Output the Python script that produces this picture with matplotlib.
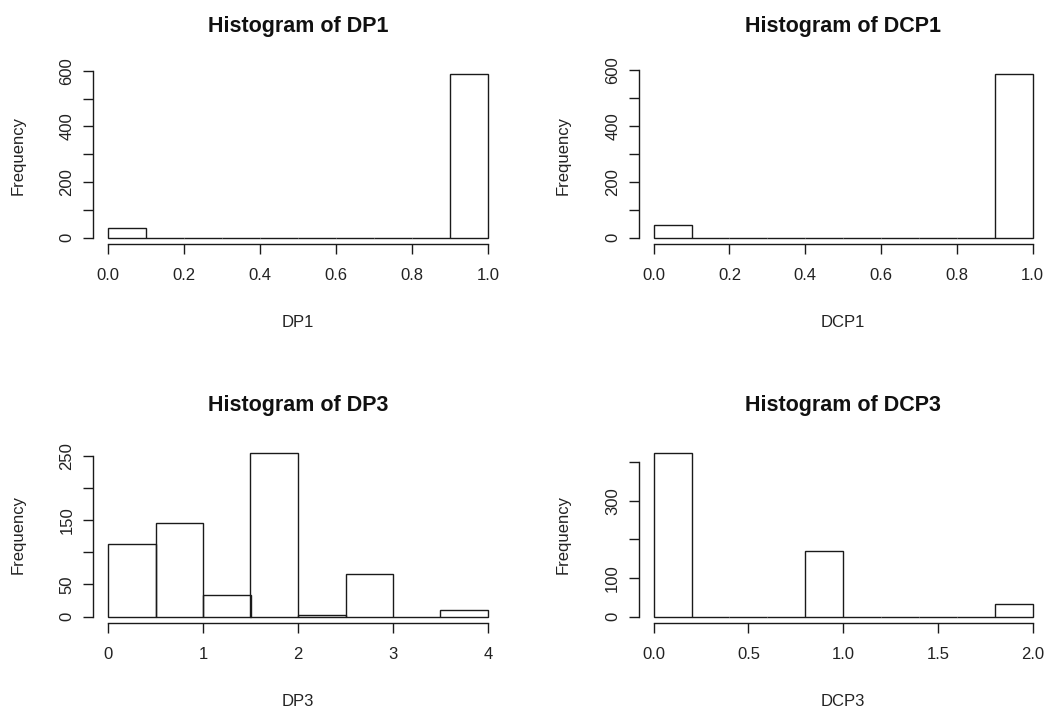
import numpy as np
import matplotlib
matplotlib.use('Agg')
import matplotlib.pyplot as plt

plt.rcParams['font.family'] = ['Liberation Sans', 'DejaVu Sans']

# bin edges and counts
dp1_edges = np.arange(0, 1.01, 0.1)
dp1_counts = [36, 0, 0, 0, 0, 0, 0, 0, 0, 588]

dcp1_edges = np.arange(0, 1.01, 0.1)
dcp1_counts = [45, 0, 0, 0, 0, 0, 0, 0, 0, 586]

dp3_edges = np.arange(0, 4.01, 0.5)
dp3_counts = [113, 145, 33, 254, 2, 66, 0, 11]

dcp3_edges = np.arange(0, 2.01, 0.2)
dcp3_counts = [423, 0, 0, 0, 171, 0, 0, 0, 0, 33]

names = ['DP1', 'DCP1', 'DP3', 'DCP3']
x_ticks = [np.arange(0, 1.01, 0.2), np.arange(0, 1.01, 0.2), np.arange(0, 4.1, 1), np.arange(0, 2.01, 0.5)]
x_labels = [['0.0', '0.2', '0.4', '0.6', '0.8', '1.0'],
            ['0.0', '0.2', '0.4', '0.6', '0.8', '1.0'],
            ['0', '1', '2', '3', '4'],
            ['0.0', '0.5', '1.0', '1.5', '2.0']]
y_ticks = [np.arange(0, 601, 100), np.arange(0, 601, 100), np.arange(0, 251, 50), np.arange(0, 401, 100)]
y_labels = [['0', '', '200', '', '400', '', '600'],
            ['0', '', '200', '', '400', '', '600'],
            ['0', '50', '', '150', '', '250'],
            ['0', '100', '', '300', '']]

W, H = 1048, 712
fig = plt.figure(figsize=(W / 100, H / 100), dpi=100)

# plot regions in pixels: left, top, right, bottom
regions = [(92.8, 67.5, 503.2, 244.2), (638.5, 67.5, 1047.9, 244.2),
           (92.8, 446.6, 503.2, 623.2), (638.5, 446.6, 1047.9, 623.2)]
data = [(dp1_edges, dp1_counts), (dcp1_edges, dcp1_counts),
        (dp3_edges, dp3_counts), (dcp3_edges, dcp3_counts)]

col = '#1a1a1a'
for i, (edges, counts) in enumerate(data):
    l, t, r, b = regions[i]
    ax = fig.add_axes([l / W, 1 - b / H, (r - l) / W, (b - t) / H])
    ax.bar(edges[:-1], counts, width=np.diff(edges), align='edge',
           fill=False, edgecolor=col, linewidth=1.0)
    x0, x1 = edges[0], edges[-1]
    dx = (x1 - x0) * 0.04
    ax.set_xlim(x0 - dx, x1 + dx)
    top = max(counts)
    ax.set_ylim(-top * 0.04, top * 1.04)
    for s in ['top', 'right']:
        ax.spines[s].set_visible(False)
    ax.spines['left'].set_bounds(y_ticks[i][0], y_ticks[i][-1])
    ax.spines['bottom'].set_bounds(x_ticks[i][0], x_ticks[i][-1])
    for s in ['left', 'bottom']:
        ax.spines[s].set_color(col)
        ax.spines[s].set_linewidth(1.0)
    ax.set_xticks(x_ticks[i])
    ax.set_xticklabels(x_labels[i])
    ax.set_yticks(y_ticks[i])
    ax.set_yticklabels(y_labels[i], rotation=90, va='center')
    ax.tick_params(length=7.2, width=1.0, color=col, labelsize=12, labelcolor='#222222')
    ax.tick_params(axis='x', pad=10)
    ax.tick_params(axis='y', pad=6)
    ph = b - t
    pw = r - l
    ax.text(0.5, 1 + 41 / ph, 'Histogram of ' + names[i], transform=ax.transAxes,
            ha='center', va='center', fontsize=15.5, fontweight='bold', color='#111111')
    ax.text(0.5, -78 / ph, names[i], transform=ax.transAxes,
            ha='center', va='center', fontsize=12, color='#222222')
    ax.text(-75 / pw, 0.5, 'Frequency', transform=ax.transAxes, rotation=90,
            ha='center', va='center', fontsize=12, color='#222222')

fig.savefig('out.png', dpi=100)
